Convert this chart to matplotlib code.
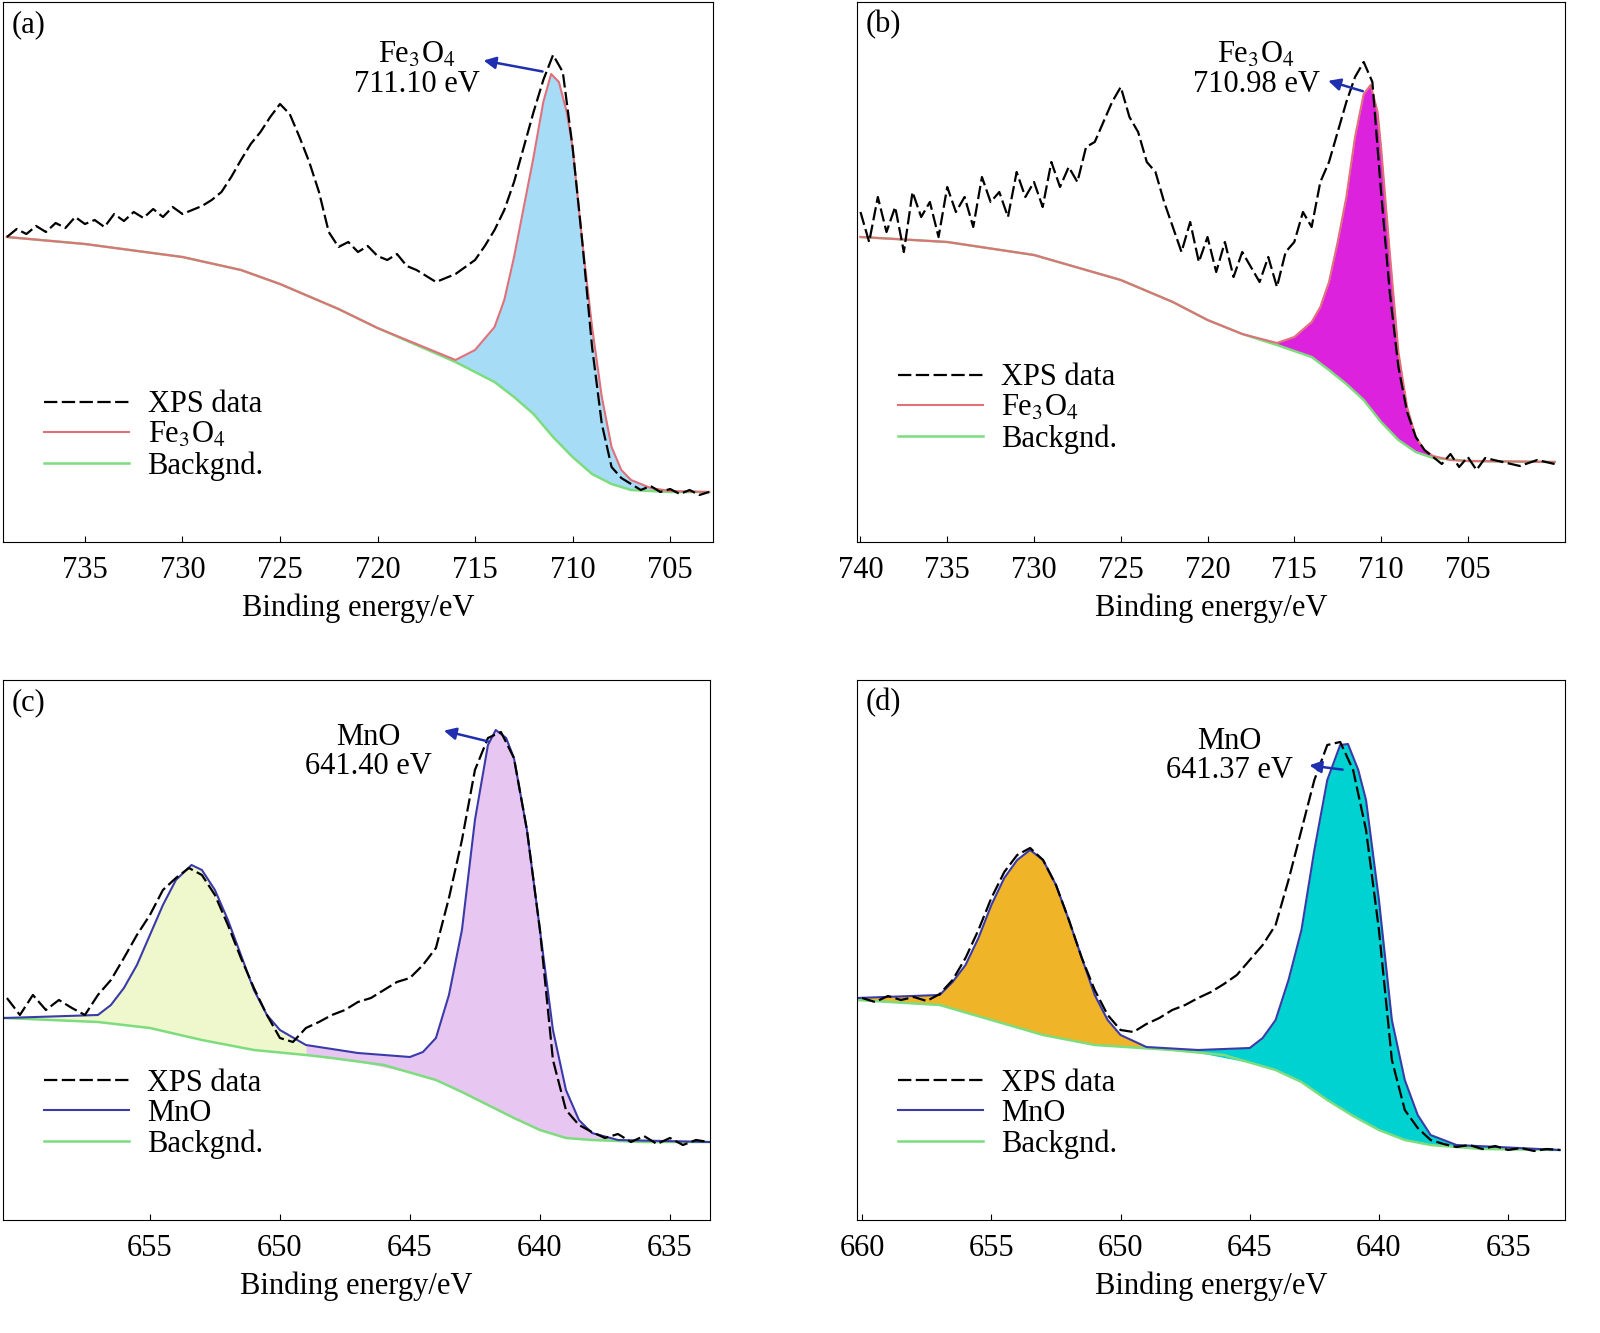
import matplotlib

matplotlib.use("Agg")
import matplotlib.pyplot as plt
import numpy as np

plt.rcParams["font.family"] = ["Liberation Serif", "DejaVu Serif"]
plt.rcParams["mathtext.fontset"] = "stix"

# ---- panel (a): Fe 2p, sample 1 ----
a_x = [739, 738.5, 738, 737.5, 737, 736.5, 736, 735.5, 735, 734.5, 734, 733.5, 733, 732.5, 732, 731.5,
       731, 730.5, 730, 729.5, 729, 728.5, 728, 727.5, 727, 726.5, 726, 725.5, 725, 724.5, 724, 723.5,
       723, 722.5, 722, 721.5, 721, 720.5, 720, 719.5, 719, 718.5, 718, 717.5, 717, 716.5, 716, 715.5,
       715, 714.5, 714, 713.5, 713, 712.5, 712, 711.5, 711, 710.5, 710, 709.5, 709, 708.5, 708, 707.5,
       707, 706.5, 706, 705.5, 705, 704.5, 704, 703.5, 703]
a_y = [305, 313, 308, 316, 310, 319, 314, 325, 318, 322, 315, 328, 321, 330, 324, 333,
       325, 335, 328, 332, 336, 342, 350, 365, 382, 398, 410, 425, 438, 428, 405, 380,
       350, 310, 295, 300, 290, 296, 286, 282, 288, 276, 272, 266, 260, 264, 268, 275,
       282, 296, 312, 332, 360, 395, 430, 462, 487, 470, 395, 300, 195, 118, 75, 64,
       58, 52, 56, 50, 53, 48, 52, 47, 50]
a_bg_x = [739, 735, 730, 727, 725, 722, 720, 718, 716, 714, 713, 712, 711, 710, 709, 708, 707, 705, 703]
a_bg_y = [305, 298, 285, 272, 258, 233, 214, 197, 180, 160, 145, 128, 105, 85, 68, 58, 52, 50, 50]
a_pk_x = [739, 735, 730, 727, 725, 722, 720, 718, 716, 715, 714, 713.5, 713, 712.5, 712, 711.5,
          711.1, 710.7, 710.3, 710, 709.5, 709, 708.5, 708, 707.5, 707, 706, 705, 703]
a_pk_y = [305, 298, 285, 272, 258, 233, 214, 198, 182, 192, 215, 242, 285, 335, 385, 440,
          468, 460, 430, 395, 300, 215, 145, 95, 72, 62, 54, 51, 50]

# ---- panel (b): Fe 2p, sample 2 ----
b_x = [740, 739.5, 739, 738.5, 738, 737.5, 737, 736.5, 736, 735.5, 735, 734.5, 734, 733.5, 733, 732.5,
       732, 731.5, 731, 730.5, 730, 729.5, 729, 728.5, 728, 727.5, 727, 726.5, 726, 725.5, 725, 724.5,
       724, 723.5, 723, 722.5, 722, 721.5, 721, 720.5, 720, 719.5, 719, 718.5, 718, 717.5, 717, 716.5,
       716, 715.5, 715, 714.5, 714, 713.5, 713, 712.5, 712, 711.5, 711, 710.5, 710, 709.5, 709, 708.5,
       708, 707.5, 707, 706.5, 706, 705.5, 705, 704.5, 704, 703, 702, 701, 700]
b_y = [330, 300, 345, 310, 335, 290, 350, 325, 340, 305, 355, 330, 345, 315, 365, 340,
       350, 325, 370, 345, 360, 335, 380, 355, 375, 360, 395, 400, 420, 440, 455, 425,
       410, 380, 370, 340, 315, 290, 320, 280, 305, 270, 300, 265, 290, 275, 260, 285,
       255, 290, 300, 330, 315, 360, 380, 410, 440, 465, 480, 460, 350, 250, 175, 130,
       105, 92, 85, 78, 88, 75, 85, 72, 84, 80, 76, 82, 78]
b_bg_x = [740, 735, 730, 725, 722, 720, 718, 716, 714, 713, 712, 711, 710, 709, 708, 707, 705, 700]
b_bg_y = [305, 300, 287, 262, 240, 222, 208, 197, 185, 172, 158, 142, 120, 102, 90, 84, 81, 80]
b_pk_x = [740, 735, 730, 725, 722, 720, 718, 716, 715, 714, 713.5, 713, 712.5, 712, 711.5, 711,
          710.6, 710.2, 710, 709.5, 709, 708.5, 708, 707.5, 707, 706, 705, 700]
b_pk_y = [305, 300, 287, 262, 240, 222, 208, 199, 205, 220, 235, 260, 300, 345, 405, 448,
          457, 430, 395, 290, 190, 135, 105, 92, 86, 82, 81, 80]

# ---- panel (c): Mn 2p, sample 1 ----
c_x = [660.5, 660, 659.5, 659, 658.5, 658, 657.5, 657, 656.5, 656, 655.5, 655, 654.5, 654, 653.5, 653,
       652.5, 652, 651.5, 651, 650.5, 650, 649.5, 649, 648.5, 648, 647.5, 647, 646.5, 646, 645.5, 645,
       644.5, 644, 643.5, 643, 642.5, 642, 641.5, 641, 640.5, 640, 639.5, 639, 638.5, 638, 637.5, 637,
       636.5, 636, 635.5, 635, 634.5, 634, 633.5]
c_y = [222, 205, 225, 210, 220, 212, 205, 225, 240, 262, 285, 305, 330, 342, 352, 345,
       325, 295, 262, 232, 205, 182, 178, 192, 198, 205, 210, 218, 222, 230, 238, 242,
       255, 272, 322, 380, 450, 482, 488, 462, 390, 290, 160, 110, 95, 88, 82, 86,
       78, 84, 76, 82, 75, 80, 78]
c_bg_x = [660.6, 657, 655, 653, 651, 649, 648, 646, 644, 643, 642, 641, 640, 639, 638, 636, 633.5]
c_bg_y = [202, 198, 192, 180, 170, 165, 162, 155, 140, 128, 115, 102, 90, 82, 80, 78, 78]
c_pk_x = [660.6, 657, 656.5, 656, 655.5, 655, 654.5, 654, 653.4, 653, 652.5, 652, 651.5, 651, 650.5, 650,
          649, 647, 645, 644.5, 644, 643.5, 643, 642.5, 642, 641.7, 641.3, 641, 640.5, 640, 639.5, 639,
          638.5, 638, 637, 633.5]
c_pk_y = [202, 205, 215, 232, 255, 285, 315, 340, 355, 350, 330, 300, 265, 230, 205, 190,
          175, 167, 163, 168, 182, 225, 290, 400, 475, 490, 482, 462, 390, 290, 190, 130,
          100, 87, 80, 78]

# ---- panel (d): Mn 2p, sample 2 ----
d_x = [660, 659.5, 659, 658.5, 658, 657.5, 657, 656.5, 656, 655.5, 655, 654.5, 654, 653.5, 653, 652.5,
       652, 651.5, 651, 650.5, 650, 649.5, 649, 648.5, 648, 647.5, 647, 646.5, 646, 645.5, 645, 644.5,
       644, 643.5, 643, 642.5, 642, 641.5, 641, 640.5, 640, 639.5, 639, 638.5, 638, 637.5, 637, 636.5,
       636, 635.5, 635, 634.5, 634, 633.5, 633]
d_y = [222, 218, 224, 220, 223, 219, 226, 240, 262, 290, 322, 348, 365, 372, 360, 335,
       300, 262, 230, 205, 190, 188, 196, 202, 210, 215, 222, 228, 236, 245, 260, 275,
       295, 340, 390, 440, 475, 478, 450, 390, 290, 160, 110, 92, 80, 76, 73, 75,
       71, 74, 70, 72, 69, 71, 70]
d_bg_x = [660.2, 657, 655, 653, 651, 648, 646, 644, 643, 642, 641, 640, 639, 638, 636, 633]
d_bg_y = [220, 215, 200, 185, 175, 170, 165, 150, 138, 120, 104, 90, 80, 75, 71, 70]
d_pk_x = [660.2, 657, 656.5, 656, 655.5, 655, 654.5, 654, 653.5, 653, 652.5, 652, 651.5, 651, 650.5, 650,
          649, 647, 645, 644.5, 644, 643.5, 643, 642.5, 642, 641.5, 641.2, 640.8, 640.5, 640, 639.5, 639,
          638.5, 638, 637, 633]
d_pk_y = [222, 225, 238, 255, 282, 315, 342, 360, 370, 360, 335, 300, 262, 225, 200, 185,
          173, 170, 172, 182, 200, 240, 290, 370, 440, 475, 476, 450, 420, 320, 200, 140,
          105, 85, 75, 70]

FONT = 22
GREEN = "#7ddc7d"


def draw_panel(fig, rect, label, x, y, bg_x, bg_y, pk_x, pk_y, xlim, xticks,
               peak_color, fills, species, note, note_xy, arrow_from, arrow_to, legend_y):
    ax = fig.add_axes(rect)
    pk_xa = np.array(pk_x, dtype=float)
    bg_at_pk = np.interp(pk_xa, bg_x[::-1], bg_y[::-1])
    for lo, hi, color in fills:
        mask = (pk_xa <= lo) & (pk_xa >= hi)
        ax.fill_between(pk_xa[mask], bg_at_pk[mask], np.array(pk_y)[mask], color=color, lw=0)
    ax.plot(bg_x, bg_y, color=GREEN, lw=1.8)
    ax.plot(pk_x, pk_y, color=peak_color, lw=1.5)
    ax.plot(x, y, color="black", lw=1.6, ls=(0, (6, 2)))
    ax.set_xlim(*xlim)
    ax.set_ylim(0, 540)
    ax.set_yticks([])
    ax.set_xticks(xticks)
    ax.tick_params(axis="x", labelsize=FONT, direction="in", length=4, pad=10)
    ax.set_xlabel("Binding energy/eV", fontsize=FONT, labelpad=6)
    ax.text(0.012, 0.985, label, transform=ax.transAxes, fontsize=FONT, va="top")
    ax.annotate("", xy=arrow_to, xytext=arrow_from,
                arrowprops=dict(arrowstyle="-|>", color="#1f2fb0", lw=1.8, mutation_scale=18))
    ax.text(note_xy[0], note_xy[1], note, fontsize=FONT, ha="center", va="center", linespacing=1.0)
    handles = [
        plt.Line2D([], [], color="black", lw=1.6, ls=(0, (6, 2))),
        plt.Line2D([], [], color=peak_color, lw=1.5),
        plt.Line2D([], [], color=GREEN, lw=1.8),
    ]
    ax.legend(handles, ["XPS data", species, "Backgnd."], loc="lower left",
              bbox_to_anchor=(0.04, legend_y), frameon=False, fontsize=FONT,
              handlelength=2.8, labelspacing=0.05, borderaxespad=0, handletextpad=0.6)
    return ax


def rect(l, t, r, b, w=1600, h=1333):
    return [l / w, (h - b) / h, (r - l) / w, (b - t) / h]


fig = plt.figure(figsize=(16, 13.33), dpi=100)

draw_panel(fig, rect(3, 2, 713, 542), "(a)", a_x, a_y, a_bg_x, a_bg_y, a_pk_x, a_pk_y,
           (739.2, 702.8), [735, 730, 725, 720, 715, 710, 705],
           "#e0707a", [(716, 703, "#a7dcf7")], "Fe$_3$O$_4$",
           "Fe$_3$O$_4$\n711.10 eV", (718.0, 472), (711.4, 470), (714.7, 482), 0.09)
draw_panel(fig, rect(857, 2, 1565, 542), "(b)", b_x, b_y, b_bg_x, b_bg_y, b_pk_x, b_pk_y,
           (740.2, 699.4), [740, 735, 730, 725, 720, 715, 710, 705],
           "#e0707a", [(716, 700, "#dd22dd")], "Fe$_3$O$_4$",
           "Fe$_3$O$_4$\n710.98 eV", (717.2, 472), (710.9, 450), (713.2, 462), 0.14)
draw_panel(fig, rect(3, 680, 710, 1220), "(c)", c_x, c_y, c_bg_x, c_bg_y, c_pk_x, c_pk_y,
           (660.65, 633.46), [655, 650, 645, 640, 635],
           "#3a3aa8", [(660.6, 649), (649, 633.5)] and
           [(660.6, 649, "#eef8cc"), (649, 633.5, "#e8c6f2")], "MnO",
           "MnO\n641.40 eV", (646.6, 468), (641.9, 478), (643.8, 490), 0.09)
draw_panel(fig, rect(857, 680, 1565, 1220), "(d)", d_x, d_y, d_bg_x, d_bg_y, d_pk_x, d_pk_y,
           (660.2, 632.8), [660, 655, 650, 645, 640, 635],
           "#3a3aa8", [(660.2, 649, "#f0b429"), (649, 633, "#00d2d2")], "MnO",
           "MnO\n641.37 eV", (645.8, 464), (641.3, 450), (642.8, 455), 0.09)

fig.savefig("out.png", dpi=100)
